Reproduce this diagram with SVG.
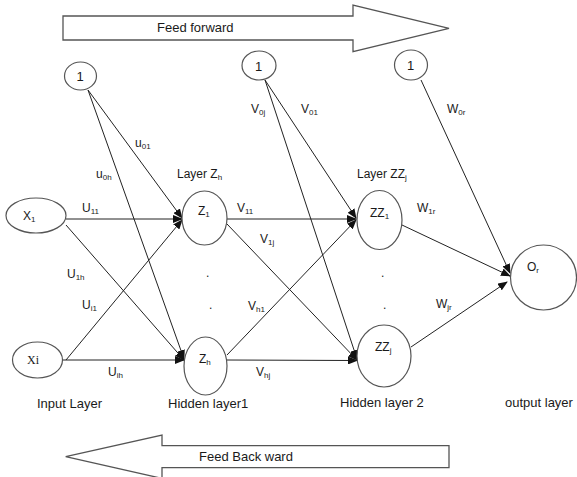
<svg xmlns="http://www.w3.org/2000/svg" width="577" height="477" viewBox="0 0 577 477">
<style>
text{font-family:"Liberation Sans",Arial,sans-serif;fill:#1a1a1a}
.t{font-size:13px}
.l{font-size:12px}
.s{font-size:8px}
.n{fill:#fff;stroke:#555;stroke-width:1.2}
.c{stroke:#222;stroke-width:1;fill:none;marker-end:url(#ah)}
.big{fill:#fff;stroke:#555;stroke-width:1.3}
</style>
<defs>
<marker id="ah" markerUnits="userSpaceOnUse" markerWidth="10" markerHeight="8" viewBox="0 0 10 8" refX="9" refY="4" orient="auto">
<path d="M0,0 L10,4 L0,8 Z" fill="#111"/>
</marker>
</defs>
<rect width="577" height="477" fill="#fff"/>
<g id="feed-forward">
<path class="big" d="M63,16 H353 V5 L449,28.3 L353,51.7 V40 H63 Z"/>
<text class="t" x="157" y="32">Feed forward</text>
</g>
<g id="feed-backward">
<path class="big" d="M449,445.7 H162 V435 L65.7,456.7 L162,478.4 V467.7 H449 Z"/>
<text class="t" x="199" y="461">Feed Back ward</text>
</g>
<g id="connectors">
<line class="c" x1="88" y1="90" x2="182" y2="218"/>
<line class="c" x1="88" y1="90" x2="184" y2="359"/>
<line class="c" x1="66" y1="219" x2="182" y2="219"/>
<line class="c" x1="66" y1="225" x2="184" y2="360"/>
<line class="c" x1="62" y1="360" x2="184" y2="360"/>
<line class="c" x1="66" y1="360" x2="182" y2="220"/>
<line class="c" x1="265" y1="80" x2="356" y2="218"/>
<line class="c" x1="265" y1="80" x2="357" y2="359"/>
<line class="c" x1="227" y1="219" x2="356" y2="219"/>
<line class="c" x1="227" y1="224" x2="357" y2="360"/>
<line class="c" x1="227" y1="360" x2="357" y2="360.5"/>
<line class="c" x1="227" y1="355" x2="356" y2="220"/>
<line class="c" x1="421" y1="80" x2="510" y2="273"/>
<line class="c" x1="402" y1="225" x2="510" y2="276"/>
<line class="c" x1="411" y1="347" x2="507" y2="282"/>
</g>
<g id="bias1">
<ellipse class="n" cx="80.5" cy="76" rx="16" ry="14"/>
<text class="t" x="76.5" y="81">1</text>
</g>
<g id="bias2">
<ellipse class="n" cx="259" cy="65.5" rx="17" ry="14.5"/>
<text class="t" x="255" y="70.5">1</text>
</g>
<g id="bias3">
<ellipse class="n" cx="411" cy="65" rx="16.5" ry="15"/>
<text class="t" x="407" y="70">1</text>
</g>
<g id="x1">
<ellipse class="n" cx="36" cy="215.5" rx="30" ry="17.5"/>
<text class="l" x="23" y="220">X<tspan class="s" dy="2">1</tspan></text>
</g>
<g id="xi">
<ellipse class="n" cx="37.5" cy="360" rx="25" ry="18"/>
<text class="l" x="27" y="364" style="font-family:'Liberation Serif',serif">Xi</text>
</g>
<g id="z1">
<ellipse class="n" cx="204.5" cy="218" rx="22.5" ry="27"/>
<text class="l" x="198" y="215">Z<tspan class="s" dy="2">1</tspan></text>
</g>
<g id="zh">
<ellipse class="n" cx="205.5" cy="366" rx="21.5" ry="29"/>
<text class="l" x="199" y="363">Z<tspan class="s" dy="2">h</tspan></text>
</g>
<g id="zz1">
<ellipse class="n" cx="379.5" cy="220" rx="22.5" ry="29.5"/>
<text class="l" x="370" y="217">ZZ<tspan class="s" dy="2">1</tspan></text>
</g>
<g id="zzj">
<ellipse class="n" cx="384" cy="356" rx="27" ry="31"/>
<text class="l" x="375" y="351">ZZ<tspan class="s" dy="2">j</tspan></text>
</g>
<g id="or">
<ellipse class="n" cx="543.5" cy="277.5" rx="33" ry="32.5"/>
<text class="l" x="527" y="271">O<tspan class="s" dy="2">r</tspan></text>
</g>
<g id="labels">
<text class="l" x="177" y="178">Layer Z<tspan class="s" dy="2">h</tspan></text>
<text class="l" x="357" y="178">Layer ZZ<tspan class="s" dy="2">j</tspan></text>
<text class="l" x="135" y="147">u<tspan class="s" dy="2">01</tspan></text>
<text class="l" x="96" y="178">u<tspan class="s" dy="2">0h</tspan></text>
<text class="l" x="82" y="212">U<tspan class="s" dy="2">11</tspan></text>
<text class="l" x="67" y="278">U<tspan class="s" dy="2">1h</tspan></text>
<text class="l" x="82" y="309">U<tspan class="s" dy="2">i1</tspan></text>
<text class="l" x="108" y="376">U<tspan class="s" dy="2">ih</tspan></text>
<text class="l" x="251" y="113">V<tspan class="s" dy="2">0j</tspan></text>
<text class="l" x="301" y="113">V<tspan class="s" dy="2">01</tspan></text>
<text class="l" x="237" y="212">V<tspan class="s" dy="2">11</tspan></text>
<text class="l" x="260" y="243">V<tspan class="s" dy="2">1j</tspan></text>
<text class="l" x="248" y="310">V<tspan class="s" dy="2">h1</tspan></text>
<text class="l" x="256" y="376">V<tspan class="s" dy="2">hj</tspan></text>
<text class="l" x="447" y="113">W<tspan class="s" dy="2">0r</tspan></text>
<text class="l" x="417" y="212">W<tspan class="s" dy="2">1r</tspan></text>
<text class="l" x="436" y="308">W<tspan class="s" dy="2">jr</tspan></text>
<text class="l" x="206" y="277">.</text>
<text class="l" x="209" y="309">.</text>
<text class="l" x="381" y="277">.</text>
<text class="l" x="383" y="309">.</text>
<text class="t" x="37" y="408">Input Layer</text>
<text class="t" x="168" y="408">Hidden layer1</text>
<text class="t" x="340" y="407">Hidden layer 2</text>
<text class="t" x="505" y="407">output layer</text>
</g>
</svg>
